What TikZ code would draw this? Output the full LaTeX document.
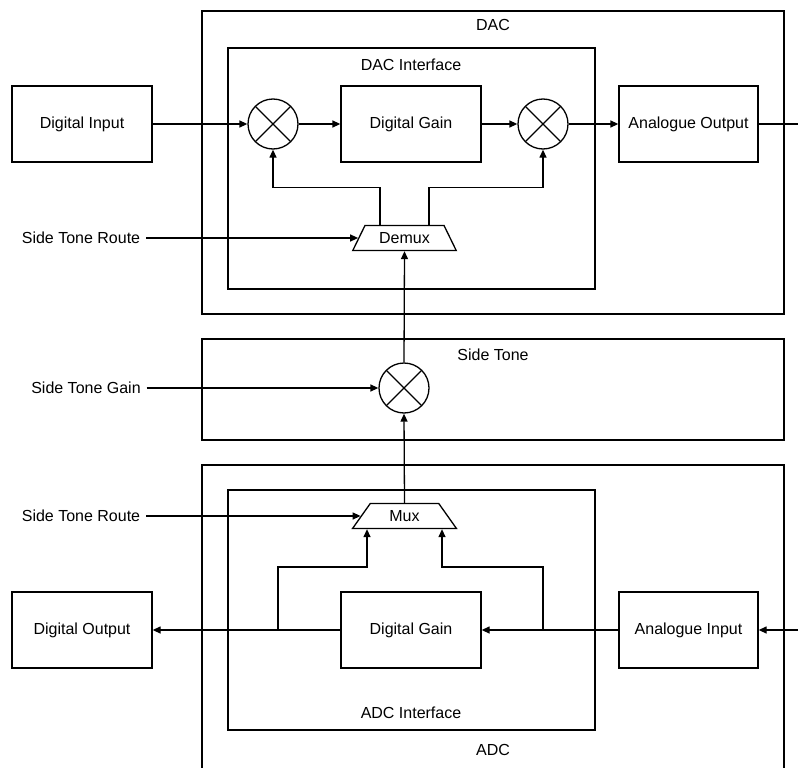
\documentclass[tikz,border=0pt]{standalone}
\usepackage{fontspec}
\setmainfont{Liberation Sans}
\usetikzlibrary{arrows.meta}
\usetikzlibrary{positioning}
\usetikzlibrary{shapes.geometric}

\tikzset{
  blk/.style={draw, line width=1.3pt, minimum width=140pt, minimum height=76pt, inner sep=0pt},
  mixer/.style={circle, draw, line width=1.3pt, minimum size=50pt, inner sep=0pt,
    path picture={\draw[line width=1.3pt] (path picture bounding box.north west) -- (path picture bounding box.south east)
      (path picture bounding box.north east) -- (path picture bounding box.south west);}},
  muxbox/.style={trapezium, draw, line width=1.3pt, trapezium angle=55, trapezium stretches,
    minimum width=104pt, minimum height=25pt, inner sep=0pt},
  lbl/.style={inner sep=0pt, outer sep=6pt},
  wire/.style={line width=1.3pt},
  sig/.style={wire, -{Triangle[length=8pt,width=7pt]}},
}

\begin{document}
\begin{tikzpicture}[x=1pt, y=-1pt, font=\fontsize{16}{18}\selectfont]
        \useasboundingbox (0,0) rectangle (798,768);
        % frames
        \draw[wire] (202,11) rectangle (784,314);
        \node (dacT) at (493,25) {DAC};
        \draw[wire] (228,48) rectangle (595,289);
        \node (daciT) at (411,65) {DAC Interface};
        \draw[wire] (202,339) rectangle (784,440);
        \node (stT) at (493,355) {Side Tone};
        \draw[wire] (202,465) rectangle (784,790);
        \node (adcT) at (493,750) {ADC};
        \draw[wire] (228,490) rectangle (595,730);
        \node (adciT) at (411,713) {ADC Interface};
        % DAC path
        \node[blk] (din) at (82,124) {Digital Input};
        \node[mixer] (mixA) at (273,124) {};
        \node[blk] (gainD) at (411,124) {Digital Gain};
        \node[mixer] (mixB) at (543,124) {};
        \node[blk, minimum width=139pt] (aout) at (688.5,124) {Analogue Output};
        \coordinate (outR) at (798,124);
        \node[muxbox] (dmx) at (404.5,238) {Demux};
        \node[lbl] (rteD) at (81,238) {Side Tone Route};
        \draw[sig] (din) -- (mixA);
        \draw[sig] (mixA) -- (gainD);
        \draw[sig] (gainD) -- (mixB);
        \draw[sig] (mixB) -- (aout);
        \draw[wire] (aout.east) -- (outR);
        \draw[sig] (rteD.east) -- (dmx.left side);
        \draw[sig] ([xshift=-24.5pt]dmx.north) -- ++(0,-37) -| (mixA.south);
        \draw[sig] ([xshift=24.5pt]dmx.north) -- ++(0,-37) -| (mixB.south);
        % side tone
        \node[mixer] (mixS) at (404,388) {};
        \node[lbl] (stg) at (86,388) {Side Tone Gain};
        \draw[sig] (stg.east) -- (mixS);
        \draw[sig] (mixS.north) -- (dmx.south);
        % ADC path
        \node[muxbox] (mux) at (404.5,516) {Mux};
        \node[lbl] (rteA) at (81,516) {Side Tone Route};
        \node[blk] (dout) at (82,630) {Digital Output};
        \node[blk] (gainA) at (411,630) {Digital Gain};
        \node[blk, minimum width=139pt] (ain) at (688.5,630) {Analogue Input};
        \coordinate (inR) at (798,630);
        \coordinate (tapL) at (278,630);
        \coordinate (tapR) at (543,630);
        \draw[sig] (mux.north) -- (mixS.south);
        \draw[sig] (rteA.east) -- (mux.left side);
        \draw[sig] (inR) -- (ain.east);
        \draw[sig] (ain) -- (gainA);
        \draw[sig] (gainA) -- (dout);
        \draw[sig] (tapL) -- ++(0,-63) -| ([xshift=-37.5pt]mux.south);
        \draw[sig] (tapR) -- ++(0,-63) -| ([xshift=37.5pt]mux.south);
\end{tikzpicture}
\end{document}
